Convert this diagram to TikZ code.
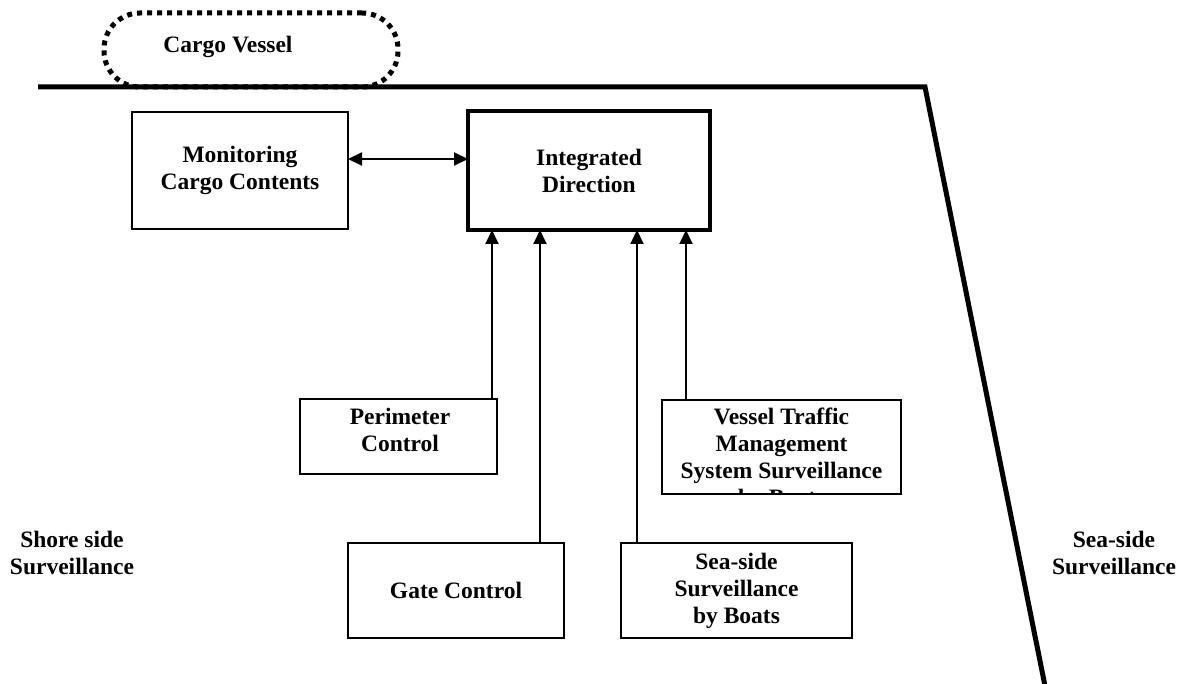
\documentclass[tikz,border=0pt]{standalone}
\usepackage{fontspec}
\setmainfont{Liberation Serif}
\usetikzlibrary{arrows.meta,calc}
\begin{document}
\begin{tikzpicture}[x=1pt,y=-1pt,
  txt/.style={font=\fontsize{23.5}{27}\selectfont\bfseries, align=center, inner sep=0pt},
  box/.style={draw, line width=2pt, inner sep=0pt, outer sep=0pt, txt},
  thickbox/.style={box, line width=4pt},
  arr/.style={line width=2pt, -{Triangle[length=14pt,width=13pt]}},
  darr/.style={line width=2pt, {Triangle[length=14pt,width=13pt]}-{Triangle[length=14pt,width=13pt]}},
  vessel/.style={draw, line width=5pt, dash pattern=on 5pt off 5pt, rounded corners=36pt, inner sep=0pt},
  shore/.style={line width=5pt, miter limit=10}
]
\useasboundingbox (0,0) rectangle (1182,684);

% shore line
\coordinate (s1) at (38,87);
\coordinate (s2) at (925,87);
\coordinate (s3) at (1045,686);
\draw[shore] (s1) -- (s2) -- (s3);

% cargo vessel
\node[vessel, minimum width=294pt, minimum height=74pt] (cv) at (251,50) {};
\node[txt] (cvt) at (228,47) {Cargo Vessel};

% boxes
\node[box, minimum width=216pt, minimum height=117pt] (mon) at (240,170.5) {Monitoring\\Cargo Contents};
\node[thickbox, minimum width=242pt, minimum height=119pt] (int) at (589,170.5) {Integrated\\Direction};
\node[box, minimum width=197pt, minimum height=75pt] (per) at (398.5,436.5) {};
\node[txt] (pert) at (400,430) {Perimeter\\Control};
\node[box, minimum width=239pt, minimum height=94pt] (vts) at (781.5,447) {};
\begin{scope}
  \clip (vts.north west) rectangle (vts.south east);
  \node[txt, anchor=north] (vtst) at (781.5,408) {Vessel Traffic\\Management\\System Surveillance\\by Boats};
\end{scope}
\node[box, minimum width=216pt, minimum height=95pt] (gate) at (456,590.5) {Gate Control};
\node[box, minimum width=231pt, minimum height=95pt] (sea) at (736.5,590.5) {Sea-side\\Surveillance\\by Boats};

% side labels
\node[txt] (shore) at (72,553) {Shore side\\Surveillance};
\node[txt] (seas) at (1114,553) {Sea-side\\Surveillance};

% connectors
\coordinate (ya) at (0,159);
\draw[darr] (mon.east |- ya) -- (int.west |- ya);
\coordinate (a1) at (492,0);
\coordinate (a2) at (540,0);
\coordinate (a3) at (637,0);
\coordinate (a4) at (686,0);
\draw[arr] (per.north -| a1) -- (int.south -| a1);
\draw[arr] (gate.north -| a2) -- (int.south -| a2);
\draw[arr] (sea.north -| a3) -- (int.south -| a3);
\draw[arr] (vts.north -| a4) -- (int.south -| a4);
\end{tikzpicture}
\end{document}
